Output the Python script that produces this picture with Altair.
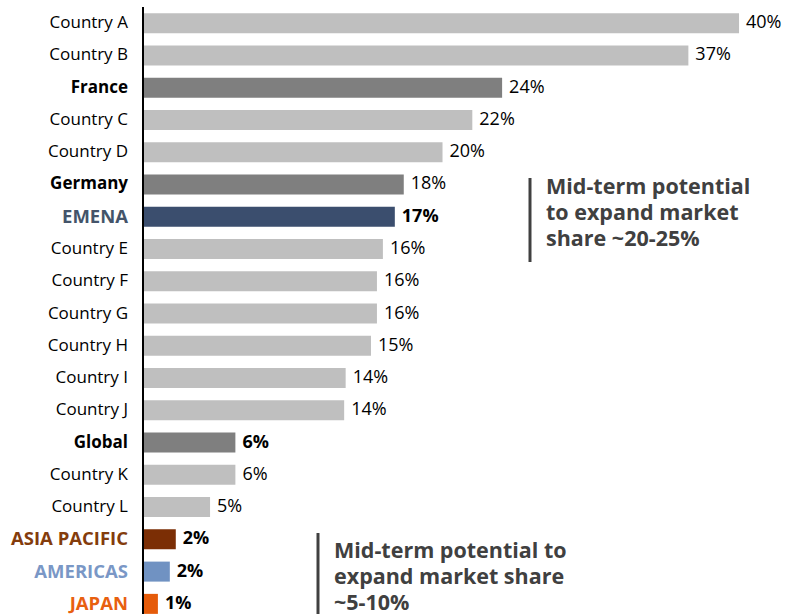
import altair as alt
import pandas as pd

categories = ["Country A", "Country B", "France", "Country C", "Country D", "Germany",
              "EMENA", "Country E", "Country F", "Country G", "Country H", "Country I",
              "Country J", "Global", "Country K", "Country L", "ASIA PACIFIC", "AMERICAS", "JAPAN"]
values = [40.0, 36.6, 24.1, 22.1, 20.1, 17.5, 16.9, 16.1, 15.7, 15.7, 15.3, 13.6,
          13.5, 6.2, 6.2, 4.5, 2.2, 1.8, 1.0]
value_labels = ["40%", "37%", "24%", "22%", "20%", "18%", "17%", "16%", "16%", "16%",
                "15%", "14%", "14%", "6%", "6%", "5%", "2%", "2%", "1%"]
bar_colors = ["#BFBFBF", "#BFBFBF", "#7F7F7F", "#BFBFBF", "#BFBFBF", "#7F7F7F",
              "#3B4E6E", "#BFBFBF", "#BFBFBF", "#BFBFBF", "#BFBFBF", "#BFBFBF",
              "#BFBFBF", "#7F7F7F", "#BFBFBF", "#BFBFBF", "#7B2E05", "#7092C2", "#E55B0A"]
label_colors = ["#000000"] * 6 + ["#44546A"] + ["#000000"] * 9 + ["#843C0C", "#7A97C6", "#E8600F"]
label_bold = [False, False, True, False, False, True, True, False, False, False, False,
              False, False, True, False, False, True, True, True]
value_bold = [False, False, False, False, False, False, True, False, False, False, False,
              False, False, True, False, False, True, True, True]

notes = [
    {"cat": "Germany", "lines": ["Mid-term potential", "to expand market", "share ~20-25%"]},
    {"cat": "ASIA PACIFIC", "lines": ["Mid-term potential to", "expand market share", "~5-10%"]},
]

df = pd.DataFrame({
    "cat": categories, "val": values, "vlabel": value_labels,
    "bcolor": bar_colors, "lcolor": label_colors,
    "lbold": label_bold, "vbold": value_bold,
})
# uppercase region names are drawn a little larger (wide bold capitals in the original)
df["lsize"] = [18.5 if c.isupper() else 17 for c in categories]

FONT = "Open Sans"
xscale = alt.Scale(domain=[0, 43.89], nice=False, zero=True)
yscale = alt.Scale(domain=categories, range=[0, 613], paddingInner=0.38, paddingOuter=0.19)

base = alt.Chart(df)
y_enc = alt.Y("cat:N", sort=categories, scale=yscale, axis=None)

bars = base.mark_bar().encode(
    x=alt.X("val:Q", scale=xscale, axis=None),
    y=y_enc,
    color=alt.Color("bcolor:N", scale=None),
)

axis_line = alt.Chart(pd.DataFrame({"x": [0]})).mark_rule(color="#000000", strokeWidth=2).encode(
    x=alt.X("x:Q", scale=xscale),
    y=alt.value(0), y2=alt.value(613),
)

def cat_labels(bold):
    return base.transform_filter(
        alt.datum.lbold if bold else ~alt.datum.lbold
    ).mark_text(align="right", baseline="middle", dx=-15, font=FONT,
                fontWeight="bold" if bold else "normal").encode(
        x=alt.value(0),
        y=y_enc,
        text="cat:N",
        color=alt.Color("lcolor:N", scale=None),
        size=alt.Size("lsize:Q", scale=None),
    )

def val_labels(bold):
    return base.transform_filter(
        alt.datum.vbold if bold else ~alt.datum.vbold
    ).mark_text(align="left", baseline="middle", dx=7, font=FONT, fontSize=18,
                fontWeight="bold" if bold else "normal", color="#000000").encode(
        x=alt.X("val:Q", scale=xscale),
        y=y_enc,
        text="vlabel:N",
    )

# annotations
note1 = alt.Chart(pd.DataFrame({"cat": [notes[0]["cat"]], "t": [notes[0]["lines"]]})).mark_text(
    align="left", baseline="top", font=FONT, fontSize=21.5, fontWeight="bold",
    color="#404040", lineHeight=26, dx=403, dy=-7).encode(
    y=alt.Y("cat:N", sort=categories, scale=yscale), x=alt.value(0), text="t")
rule1 = alt.Chart(pd.DataFrame({"cat": [notes[0]["cat"]]})).mark_rule(color="#404040", strokeWidth=3).encode(
    x=alt.value(387), y=alt.value(171), y2=alt.value(255))

note2 = alt.Chart(pd.DataFrame({"cat": [notes[1]["cat"]], "t": [notes[1]["lines"]]})).mark_text(
    align="left", baseline="top", font=FONT, fontSize=21.5, fontWeight="bold",
    color="#404040", lineHeight=26, dx=191, dy=2).encode(
    y=alt.Y("cat:N", sort=categories, scale=yscale), x=alt.value(0), text="t")
rule2 = alt.Chart(pd.DataFrame({"cat": [notes[1]["cat"]]})).mark_rule(color="#404040", strokeWidth=3).encode(
    x=alt.value(175), y=alt.value(526), y2=alt.value(613))

chart = alt.layer(
    bars, axis_line, cat_labels(False), cat_labels(True), val_labels(False), val_labels(True),
    rule1, note1, rule2, note2,
).properties(
    width=654, height=607,
    autosize=alt.AutoSizeParams(type="none"),
    padding={"left": 143, "top": 7, "right": 0, "bottom": 0},
).configure_view(stroke=None)

chart.save("out.html", embed_options={"renderer": "svg", "actions": False})
